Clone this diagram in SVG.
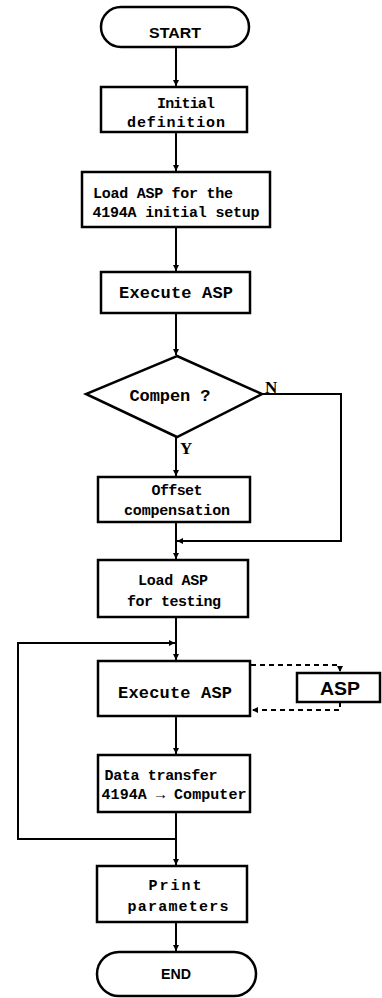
<svg xmlns="http://www.w3.org/2000/svg" width="382" height="998" viewBox="0 0 382 998">
<style>
.box{fill:#fff;stroke:#000;stroke-width:2.5}
.ln{fill:none;stroke:#000;stroke-width:2}
.dash{fill:none;stroke:#000;stroke-width:2;stroke-dasharray:5 4}
.t{font-family:"Liberation Mono",monospace;font-weight:bold;font-size:15px;fill:#000;text-anchor:middle}
.big{font-size:17px}
.s{font-family:"Liberation Sans",Arial,sans-serif;font-weight:bold;fill:#000;text-anchor:middle}
.lbl{font-family:"Liberation Serif",serif;font-weight:bold;font-size:17px;fill:#000}
</style>
<defs>
<marker id="ah" viewBox="0 0 10 10" refX="10" refY="5" markerWidth="6" markerHeight="8" markerUnits="userSpaceOnUse" orient="auto">
<path d="M0,0 L10,5 L0,10 z" fill="#000"/>
</marker>
</defs>
<g id="connectors">
<path class="ln" d="M176 47 V86" marker-end="url(#ah)"/>
<path class="ln" d="M176 132 V171" marker-end="url(#ah)"/>
<path class="ln" d="M176 227 V271" marker-end="url(#ah)"/>
<path class="ln" d="M176 313 V355" marker-end="url(#ah)"/>
<path class="ln" d="M176 437 V476" marker-end="url(#ah)"/>
<path class="ln" d="M176 522 V559" marker-end="url(#ah)"/>
<path class="ln" d="M262 394 H341 V541 H177" marker-end="url(#ah)"/>
<path class="ln" d="M176 617 V660" marker-end="url(#ah)"/>
<path class="ln" d="M176 716 V754" marker-end="url(#ah)"/>
<path class="ln" d="M176 812 V839 H18 V643 H175" marker-end="url(#ah)"/>
<path class="ln" d="M176 839 V865" marker-end="url(#ah)"/>
<path class="ln" d="M176 922 V951" marker-end="url(#ah)"/>
<path class="dash" d="M251 665 H340 V672" marker-end="url(#ah)"/>
<path class="dash" d="M340 702 V710 H252" marker-end="url(#ah)"/>
</g>
<g id="start"><rect class="box" x="101" y="7" width="148" height="40" rx="20"/><text class="s" x="175" y="38" font-size="14" textLength="52" lengthAdjust="spacingAndGlyphs">START</text></g>
<g id="init"><rect class="box" x="101" y="87" width="146" height="45"/><text class="t" x="186" y="108" textLength="58">Initial</text><text class="t" x="176" y="127" textLength="98">definition</text></g>
<g id="load1"><rect class="box" x="82" y="172" width="188" height="55"/><text class="t" x="163" y="198" textLength="140">Load ASP for the</text><text class="t" x="176" y="217" textLength="167">4194A initial setup</text></g>
<g id="exec1"><rect class="box" x="101" y="272" width="149" height="41"/><text class="t big" x="176" y="298" textLength="114">Execute ASP</text></g>
<g id="compen"><polygon class="box" points="177,356 262,394 177,437 86,394"/><text class="t big" x="170" y="401" textLength="81">Compen ?</text></g>
<text class="lbl" x="265" y="393">N</text>
<text class="lbl" x="180" y="454">Y</text>
<g id="offset"><rect class="box" x="98" y="477" width="152" height="45"/><text class="t" x="177" y="495" textLength="51">Offset</text><text class="t" x="177" y="515" textLength="106">compensation</text></g>
<g id="load2"><rect class="box" x="98" y="560" width="150" height="57"/><text class="t" x="173" y="585" textLength="70">Load ASP</text><text class="t" x="174" y="606" textLength="94">for testing</text></g>
<g id="exec2"><rect class="box" x="98" y="661" width="152" height="55"/><text class="t big" x="175" y="698" textLength="114">Execute ASP</text></g>
<g id="asp"><rect class="box" x="297" y="673" width="83" height="29"/><text class="s" x="340" y="695" font-size="18" textLength="40" lengthAdjust="spacingAndGlyphs">ASP</text></g>
<g id="transfer"><rect class="box" x="98" y="755" width="152" height="57"/><text class="t" x="161" y="780" textLength="113">Data transfer</text><text class="t" x="174" y="799" textLength="145">4194A → Computer</text></g>
<g id="print"><rect class="box" x="97" y="866" width="150" height="56"/><text class="t" x="175" y="890" textLength="53">Print</text><text class="t" x="178" y="911" textLength="101">parameters</text></g>
<g id="end"><rect class="box" x="97" y="952" width="159" height="44" rx="22"/><text class="s" x="176" y="979" font-size="14" textLength="30" lengthAdjust="spacingAndGlyphs">END</text></g>
</svg>
